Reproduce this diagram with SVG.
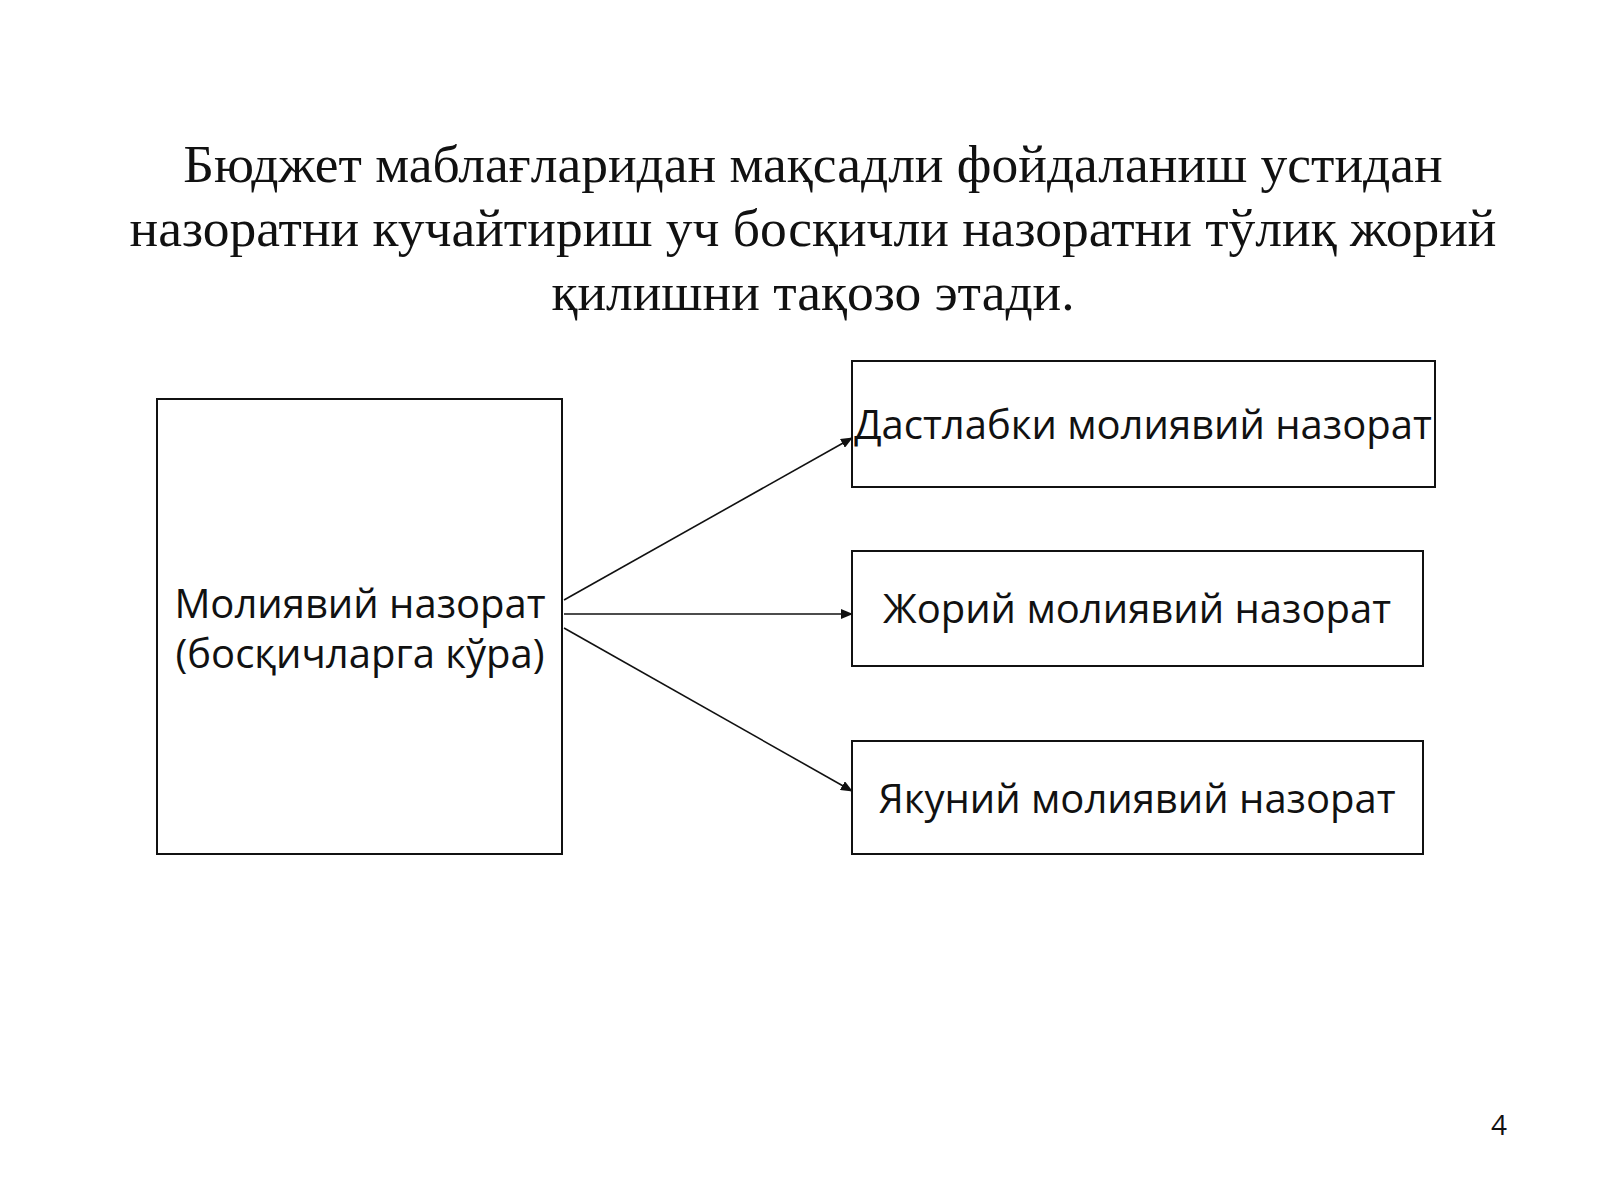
<svg xmlns="http://www.w3.org/2000/svg" width="1600" height="1200" viewBox="0 0 1600 1200">
<style>
.t{font-family:"Liberation Serif",serif;font-size:53.5px;fill:#111;text-anchor:middle}
.n{font-family:"Open Sans","Noto Sans",sans-serif;font-size:40px;fill:#111;text-anchor:middle}
.b{fill:#fff;stroke:#111;stroke-width:2}
.c{stroke:#111;stroke-width:1.6;fill:none;marker-end:url(#a)}
</style>
<defs><marker id="a" markerWidth="12" markerHeight="10" refX="11" refY="5" orient="auto" markerUnits="userSpaceOnUse"><path d="M0,0 L12,5 L0,10 z" fill="#111"/></marker></defs>
<rect width="1600" height="1200" fill="#fff"/>
<text class="t" x="813" y="182">Бюджет маблағларидан мақсадли фойдаланиш устидан</text>
<text class="t" x="813" y="246">назоратни кучайтириш уч босқичли назоратни тўлиқ жорий</text>
<text class="t" x="813" y="310">қилишни тақозо этади.</text>
<g id="main"><rect class="b" x="157" y="399" width="405" height="455"/>
<text class="n" x="360" y="618">Молиявий назорат</text><text class="n" x="360" y="668">(босқичларга кўра)</text></g>
<g id="n1"><rect class="b" x="852" y="361" width="583" height="126"/><text class="n" x="1143" y="439">Дастлабки молиявий назорат</text></g>
<g id="n2"><rect class="b" x="852" y="551" width="571" height="115"/><text class="n" x="1137" y="623">Жорий молиявий назорат</text></g>
<g id="n3"><rect class="b" x="852" y="741" width="571" height="113"/><text class="n" x="1137" y="813">Якуний молиявий назорат</text></g>
<g id="connectors">
<line class="c" x1="564" y1="600" x2="852" y2="438"/>
<line class="c" x1="564" y1="614" x2="852" y2="614"/>
<line class="c" x1="564" y1="628" x2="852" y2="791"/>
</g>
<text x="1499" y="1135" style="font-family:'Open Sans',sans-serif;font-size:28px;fill:#111" text-anchor="middle">4</text>
</svg>
